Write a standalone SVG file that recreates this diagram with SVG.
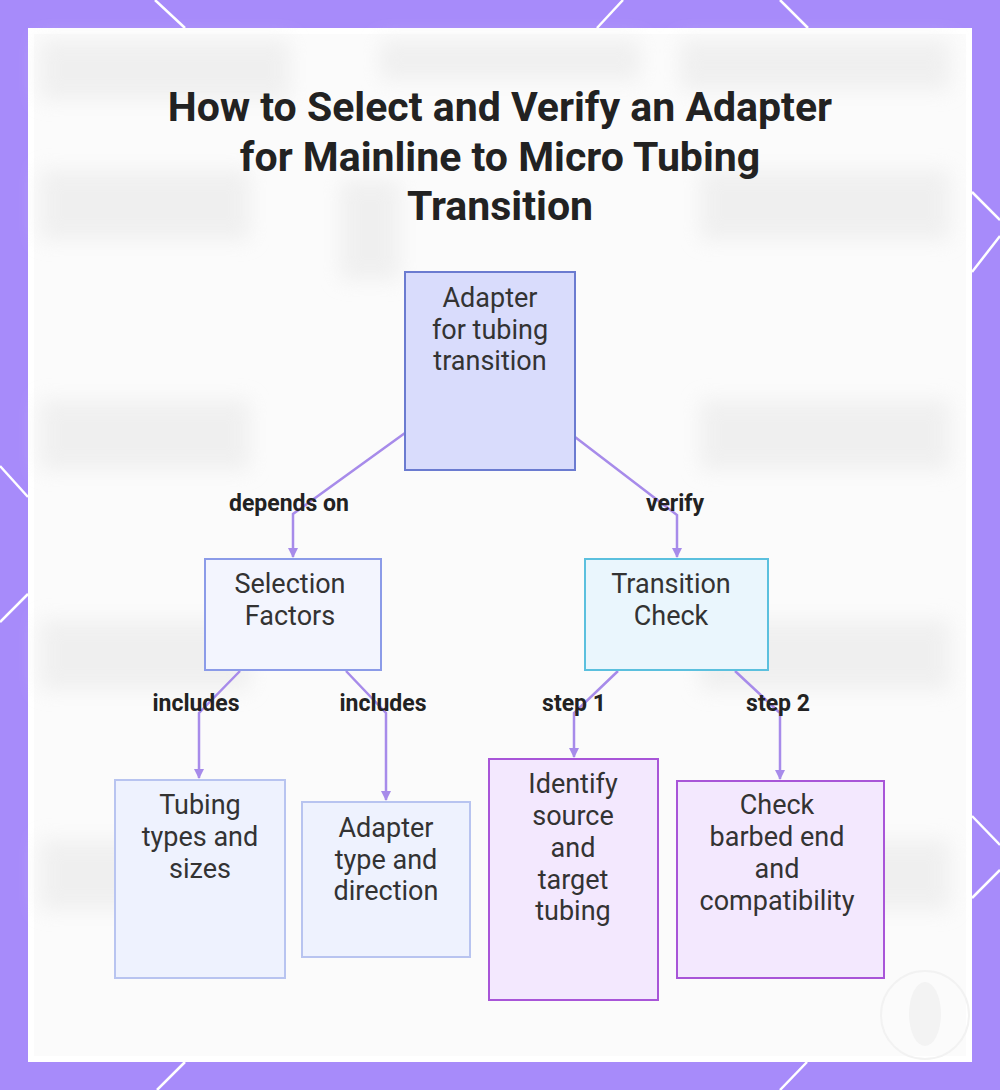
<svg xmlns="http://www.w3.org/2000/svg" width="1000" height="1090" viewBox="0 0 1000 1090">
<style>
.title{font-family:Roboto,"Liberation Sans",sans-serif;font-weight:bold;font-size:41px;fill:#222;text-anchor:middle}
.nt{font-family:Roboto,"Liberation Sans",sans-serif;font-size:27px;fill:#333;text-anchor:middle;dominant-baseline:central}
.el{font-family:Roboto,"Liberation Sans",sans-serif;font-weight:bold;font-size:23px;fill:#222;text-anchor:middle;dominant-baseline:central}
.conn{fill:none;stroke:#a78bea;stroke-width:2.5;marker-end:url(#ah)}
.deco{stroke:#fff;stroke-width:2.5}
.blur{fill:#e8e8e8}
</style>
<defs>
<marker id="ah" viewBox="0 0 10 10" refX="9" refY="5" markerWidth="4" markerHeight="4" orient="auto" markerUnits="strokeWidth">
<path d="M0,0 L10,5 L0,10 z" fill="#a78bea"/>
</marker>
<filter id="bl" x="-20%" y="-50%" width="140%" height="200%"><feGaussianBlur stdDeviation="10"/></filter>
</defs>
<rect x="0" y="0" width="1000" height="1090" fill="#a78bfa"/>
<g class="deco">
<line x1="155" y1="0" x2="185" y2="28"/>
<line x1="623" y1="0" x2="597" y2="28"/>
<line x1="780" y1="0" x2="808" y2="28"/>
<line x1="0" y1="466" x2="28" y2="497"/>
<line x1="28" y1="594" x2="0" y2="622"/>
<line x1="972" y1="192" x2="1000" y2="220"/>
<line x1="1000" y1="236" x2="972" y2="272"/>
<line x1="972" y1="816" x2="1000" y2="845"/>
<line x1="1000" y1="870" x2="972" y2="898"/>
<line x1="185" y1="1062" x2="157" y2="1090"/>
<line x1="807" y1="1062" x2="780" y2="1090"/>
</g>
<rect x="28" y="28" width="944" height="1034" fill="#fff"/>
<rect x="34" y="34" width="932" height="1022" fill="#fbfbfb"/>
<g filter="url(#bl)" opacity="0.6">
<rect class="blur" x="40" y="40" width="250" height="60"/>
<rect class="blur" x="380" y="40" width="260" height="40"/>
<rect class="blur" x="680" y="40" width="270" height="50"/>
<rect class="blur" x="40" y="170" width="210" height="70"/>
<rect class="blur" x="340" y="180" width="60" height="100"/>
<rect class="blur" x="700" y="170" width="250" height="70"/>
<rect class="blur" x="40" y="400" width="210" height="70"/>
<rect class="blur" x="700" y="400" width="250" height="70"/>
<rect class="blur" x="40" y="620" width="210" height="70"/>
<rect class="blur" x="700" y="620" width="250" height="70"/>
<rect class="blur" x="40" y="840" width="210" height="70"/>
<rect class="blur" x="700" y="840" width="250" height="70"/>
</g>
<circle cx="925" cy="1015" r="44" fill="none" stroke="#f2f2f2" stroke-width="2"/>
<ellipse cx="925" cy="1014" rx="16" ry="32" fill="#f3f3f3"/>
<g id="title">
<text class="title" x="500" y="121">How to Select and Verify an Adapter</text>
<text class="title" x="500" y="171">for Mainline to Micro Tubing</text>
<text class="title" x="500" y="220">Transition</text>
</g>
<g id="connectors">
<polyline class="conn" points="405,433 293,514 293,557"/>
<polyline class="conn" points="575,437 677,515 677,557"/>
<polyline class="conn" points="240,671 199,713 199,778"/>
<polyline class="conn" points="346,671 386,713 386,800"/>
<polyline class="conn" points="618,671 574,713 574,757"/>
<polyline class="conn" points="735,671 780,713 780,779"/>
<text class="el" x="289" y="503">depends on</text>
<text class="el" x="675" y="503">verify</text>
<text class="el" x="196" y="703">includes</text>
<text class="el" x="383" y="703">includes</text>
<text class="el" x="574" y="703">step 1</text>
<text class="el" x="778" y="703">step 2</text>
</g>
<g id="root">
<rect x="405" y="272" width="170" height="198" fill="#d9dcfc" stroke="#6b7bd0" stroke-width="2"/>
<text class="nt" x="490" y="298">Adapter</text>
<text class="nt" x="490" y="330">for tubing</text>
<text class="nt" x="490" y="361">transition</text>
</g>
<g id="selection">
<rect x="205" y="559" width="176" height="111" fill="#f3f5fe" stroke="#8b9be8" stroke-width="2"/>
<text class="nt" x="290" y="584">Selection</text>
<text class="nt" x="290" y="616">Factors</text>
</g>
<g id="transition">
<rect x="585" y="559" width="183" height="111" fill="#eaf6fd" stroke="#5bc0de" stroke-width="2"/>
<text class="nt" x="671" y="584">Transition</text>
<text class="nt" x="671" y="616">Check</text>
</g>
<g id="tubing">
<rect x="115" y="780" width="170" height="198" fill="#eef2fe" stroke="#b8c4f0" stroke-width="2"/>
<text class="nt" x="200" y="805">Tubing</text>
<text class="nt" x="200" y="837">types and</text>
<text class="nt" x="200" y="869">sizes</text>
</g>
<g id="adaptertype">
<rect x="302" y="802" width="168" height="155" fill="#eef2fe" stroke="#b8c4f0" stroke-width="2"/>
<text class="nt" x="386" y="828">Adapter</text>
<text class="nt" x="386" y="860">type and</text>
<text class="nt" x="386" y="891">direction</text>
</g>
<g id="identify">
<rect x="489" y="759" width="169" height="241" fill="#f3e8fe" stroke="#a855d8" stroke-width="2"/>
<text class="nt" x="573" y="784">Identify</text>
<text class="nt" x="573" y="816">source</text>
<text class="nt" x="573" y="848">and</text>
<text class="nt" x="573" y="880">target</text>
<text class="nt" x="573" y="911">tubing</text>
</g>
<g id="check">
<rect x="677" y="781" width="207" height="197" fill="#f3e8fe" stroke="#a855d8" stroke-width="2"/>
<text class="nt" x="777" y="805">Check</text>
<text class="nt" x="777" y="837">barbed end</text>
<text class="nt" x="777" y="869">and</text>
<text class="nt" x="777" y="901">compatibility</text>
</g>
</svg>
